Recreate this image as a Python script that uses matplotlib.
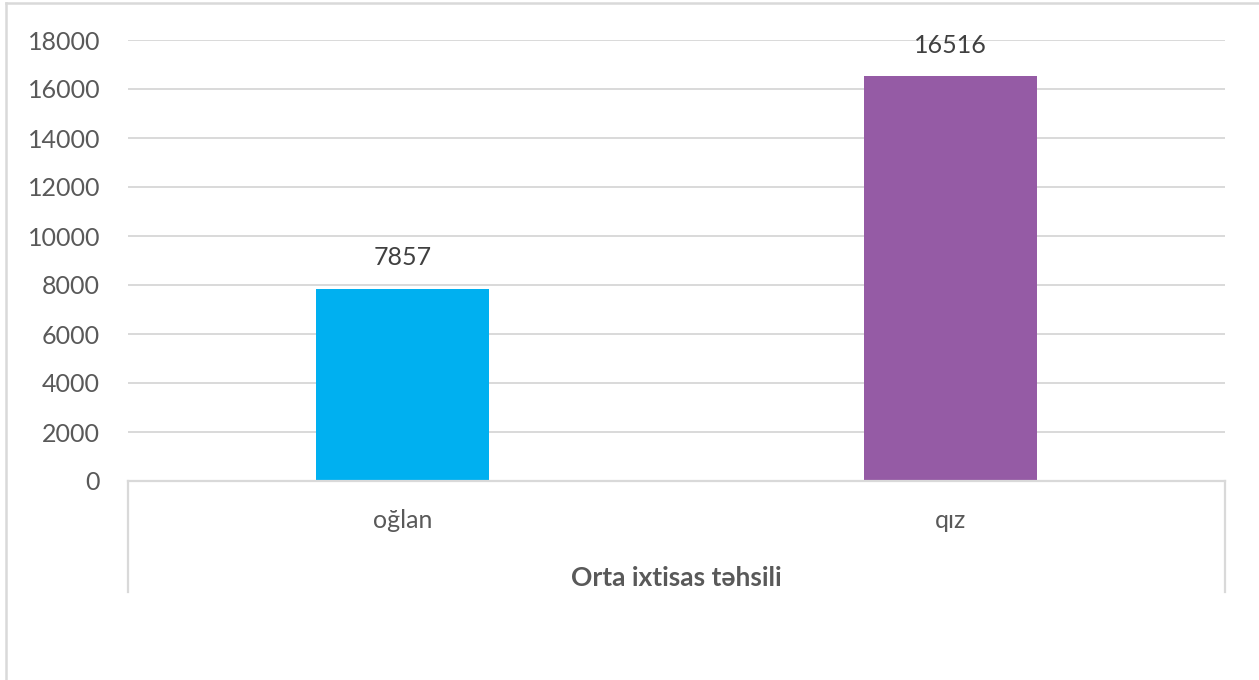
import numpy as np
import matplotlib.pyplot as plt
from matplotlib.lines import Line2D

# Orta ixtisas təhsili — cinsə görə
categories = ["oğlan", "qız"]
values = [7857, 16516]
bar_colors = ["#00B0F0", "#955BA5"]
group_title = "Orta ixtisas təhsili"
yticks = list(range(0, 18001, 2000))

plt.rcParams["font.family"] = ["Lato", "DejaVu Sans"]
GRID = "#D9D9D9"

fig = plt.figure(figsize=(12.59, 6.8), dpi=100)
ax = fig.add_axes([128 / 1259, 1 - 481 / 680, (1225 - 128) / 1259, 441 / 680])

x = np.arange(len(categories))
bars = ax.bar(x, values, width=0.315, color=bar_colors, zorder=3)

ax.set_xlim(-0.5, len(categories) - 0.5)
ax.set_ylim(0, 18000)
ax.set_yticks(yticks)
ax.set_yticklabels([str(t) for t in yticks])
ax.tick_params(axis="y", length=0, pad=20, labelsize=18, labelcolor="#595959")
ax.set_xticks([])
ax.grid(axis="y", color=GRID, linewidth=1.4, zorder=0)
for side in ["top", "right", "left"]:
    ax.spines[side].set_visible(False)
ax.spines["bottom"].set_color(GRID)
ax.spines["bottom"].set_linewidth(1.6)
ax.spines["bottom"].set_zorder(4)

# data labels above bars
for b, v in zip(bars, values):
    ax.annotate(str(v), (b.get_x() + b.get_width() / 2, v),
                xytext=(0, 14), textcoords="offset points",
                ha="center", va="bottom", fontsize=18, color="#404040")

# category box under the axis
box_depth = -(592 - 481) / 441
for xa in [0, 1]:
    ax.add_line(Line2D([xa, xa], [0, box_depth], transform=ax.transAxes,
                       color=GRID, linewidth=1.6, clip_on=False))

for xi, lab in zip(x, categories):
    ax.text(xi, -(39 / 441), lab, transform=ax.get_xaxis_transform(),
            ha="center", va="center", fontsize=18, color="#595959")

ax.text(0.5, -(97 / 441), group_title, transform=ax.transAxes,
        ha="center", va="center", fontsize=19, fontweight="bold", color="#595959")

# chart frame
fig.add_artist(Line2D([6 / 1259, 6 / 1259], [0, 1 - 3 / 680],
                      transform=fig.transFigure, color=GRID, linewidth=1.8))
fig.add_artist(Line2D([6 / 1259, 1], [1 - 3 / 680, 1 - 3 / 680],
                      transform=fig.transFigure, color=GRID, linewidth=1.8))

fig.savefig("out.png", dpi=100, facecolor="white")
